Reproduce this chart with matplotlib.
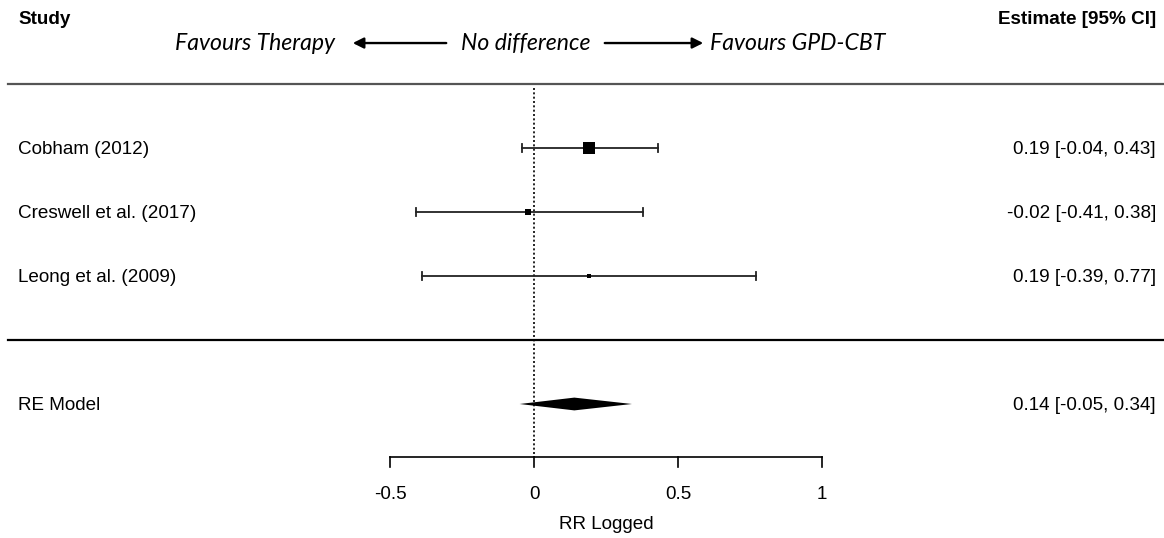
import numpy as np
import matplotlib
matplotlib.use("Agg")
import matplotlib.pyplot as plt

# Daten (RR logged)
studies = ["Cobham (2012)", "Creswell et al. (2017)", "Leong et al. (2009)"]
est = [0.19, -0.02, 0.19]
ci_lo = [-0.04, -0.41, -0.39]
ci_hi = [0.43, 0.38, 0.77]
re_label = "RE Model"
re_est, re_lo, re_hi = 0.14, -0.05, 0.34
xticks = [-0.5, 0, 0.5, 1]
xlabel = "RR Logged"

plt.rcParams['font.family'] = ['Liberation Sans', 'DejaVu Sans']

W, H = 1164, 538
fig = plt.figure(figsize=(W / 100, H / 100), dpi=100)
ax = fig.add_axes([0, 0, 1, 1])
ax.axis('off')

# x: 0 -> 534 px, 288 px pro Einheit; y: Zeilen zu je 64 px, y=0 bei 340 px
x0, sx = 534, 288
y0, sy = 340, 64
ax.set_xlim(-x0 / sx, (W - x0) / sx)
ax.set_ylim(-(H - y0) / sy, y0 / sy)

k = len(studies)
rows = np.arange(k, 0, -1)
xl = ax.get_xlim()
fs = 13.6
dy = 0.03  # kleine Textverschiebung nach unten

# Gewichte wie bei metafor: 1/SE^2, Punktgroesse 0.5..1.5
se = (np.array(ci_hi) - np.array(ci_lo)) / 3.92
w = 1 / se**2
psize = (w - w.min()) / (w.max() - w.min()) + 0.5

# horizontale Linien
ax.plot([xl[0] + 8 / sx, xl[1]], [k + 1, k + 1], color='#555555', lw=1.6)
ax.plot([xl[0] + 8 / sx, xl[1]], [0, 0], color='black', lw=1.6)

# Nulllinie
ax.plot([0, 0], [k + 0.93, -1.83], color='black', lw=1.2, ls=(0, (1.2, 1.4)))

cap = 0.07
for i, r in enumerate(rows):
    e, lo, hi = est[i], ci_lo[i], ci_hi[i]
    ax.plot([lo, hi], [r, r], color='#222222', lw=1.3)
    ax.plot([lo, lo], [r - cap, r + cap], color='#222222', lw=1.3)
    ax.plot([hi, hi], [r - cap, r + cap], color='#222222', lw=1.3)
    ax.plot(e, r, marker='s', color='black', ms=psize[i] * 5.8, mew=0)
    ax.text(18 / sx + xl[0], r - dy, studies[i], ha='left', va='center', fontsize=fs)
    ax.text(xl[1] - 8 / sx, r - dy, f"{e:.2f} [{lo:.2f}, {hi:.2f}]", ha='right', va='center', fontsize=fs)

# RE Modell
yr = -1
ax.fill([re_lo, re_est, re_hi, re_est], [yr, yr + 0.1, yr, yr - 0.1], color='black', lw=0)
ax.text(18 / sx + xl[0], yr - dy, re_label, ha='left', va='center', fontsize=fs)
ax.text(xl[1] - 8 / sx, yr - dy, f"{re_est:.2f} [{re_lo:.2f}, {re_hi:.2f}]", ha='right', va='center', fontsize=fs)

# x-Achse
ya = -1.83
ax.plot([xticks[0], xticks[-1]], [ya, ya], color='black', lw=1.2)
for t in xticks:
    ax.plot([t, t], [ya, ya - 0.16], color='black', lw=1.2)
    ax.text(t, ya - 0.58, f"{t:g}", ha='center', va='center', fontsize=fs)
ax.text(np.mean([xticks[0], xticks[-1]]), ya - 1.05, xlabel, ha='center', va='center', fontsize=fs)

# Kopfzeile
ax.text(18 / sx + xl[0], 5.03 - dy, "Study", ha='left', va='center', fontsize=fs, fontweight='bold')
ax.text(xl[1] - 8 / sx, 5.03 - dy, "Estimate [95% CI]", ha='right', va='center', fontsize=fs, fontweight='bold')

yh = 4.64
ifont = dict(fontsize=16.6, style='italic', family=['Lato', 'DejaVu Sans'], va='center')
ax.text((335 - x0) / sx, yh, "Favours Therapy", ha='right', **ifont)
ax.text((525.5 - x0) / sx, yh, "No difference", ha='center', **ifont)
ax.text((710 - x0) / sx, yh, "Favours GPD-CBT", ha='left', **ifont)
arr = dict(arrowstyle='-|>', color='black', lw=1.7, mutation_scale=16)
ax.annotate('', xy=((350 - x0) / sx, yh), xytext=((449 - x0) / sx, yh), arrowprops=arr)
ax.annotate('', xy=((706 - x0) / sx, yh), xytext=((602 - x0) / sx, yh), arrowprops=arr)

fig.savefig("out.png", dpi=100)
